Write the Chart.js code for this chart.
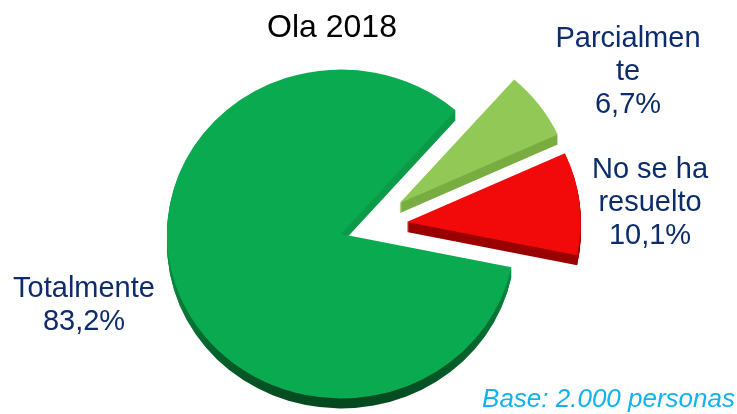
<!DOCTYPE html>
<html>
<head>
<meta charset="utf-8">
<script src="https://cdn.jsdelivr.net/npm/chart.js@4"></script>
<style>
  html, body { margin: 0; padding: 0; background: #fff; }
  #chart { display: block; }
</style>
</head>
<body>
<canvas id="chart" width="737" height="414"></canvas>
<script>
const title = "Ola 2018";
const categories = [["Parcialmen", "te"], ["No se ha", "resuelto"], ["Totalmente"]];
const shares = [6.7, 10.1, 83.2];
const baseNote = "Base: 2.000 personas";

const topColors = ["#92c855", "#f20a0a", "#0aab50"];
const sideColors = ["#79ad42", "#9a0000", null]; // big slice gets a gradient wall
const explode = [67, 67, 0];
const explodeTurn = [7.6, -4.4, 0]; // degrees, nudges the pull-out direction
const labelPos = [{ x: 628, y: 47 }, { x: 650, y: 178 }, { x: 84, y: 297 }];
const TILT = 0.945;
const DEPTH = 10;
const LINE = 33;
const navy = "#0d2c6c";

function fmt(v) {
    return v.toFixed(1).replace(".", ",") + "%";
}

function slicePath(ctx, a) {
    ctx.beginPath();
    ctx.moveTo(a.x, a.y);
    ctx.arc(a.x, a.y, a.outerRadius, a.startAngle, a.endAngle);
    ctx.closePath();
}

// flatten the pie into an ellipse and push exploded slices outwards
function placeSlice(ctx, a, i) {
    const dir = (a.startAngle + a.endAngle) / 2 + explodeTurn[i] * Math.PI / 180;
    ctx.translate(0, a.y);
    ctx.scale(1, TILT);
    ctx.translate(0, -a.y);
    ctx.translate(Math.cos(dir) * explode[i], Math.sin(dir) * explode[i]);
}

const pie3d = {
    id: "pie3d",
    beforeDatasetsDraw(chart) {
        const ctx = chart.ctx;
        const arcs = chart.getDatasetMeta(0).data;

        // side walls, stacked from the bottom up
        for (let d = DEPTH; d >= 1; d--) {
            arcs.forEach((a, i) => {
                ctx.save();
                ctx.translate(0, d);
                placeSlice(ctx, a, i);
                if (sideColors[i]) {
                    ctx.fillStyle = sideColors[i];
                } else {
                    const g = ctx.createLinearGradient(0, a.y, 0, a.y + a.outerRadius);
                    g.addColorStop(0, "#0a9a48");
                    g.addColorStop(1, "#05481f");
                    ctx.fillStyle = g;
                }
                slicePath(ctx, a);
                ctx.fill();
                ctx.restore();
            });
        }

        // top faces
        arcs.forEach((a, i) => {
            ctx.save();
            placeSlice(ctx, a, i);
            a.draw(ctx);
            ctx.restore();
        });
        return false;
    },
    afterDraw(chart) {
        const ctx = chart.ctx;
        ctx.save();
        ctx.textAlign = "center";
        ctx.textBaseline = "alphabetic";

        ctx.fillStyle = "#000";
        ctx.font = "32px 'Liberation Sans', Arial, sans-serif";
        ctx.fillText(title, 332, 37);

        ctx.fillStyle = navy;
        ctx.font = "29px 'Liberation Sans', Arial, sans-serif";
        categories.forEach((lines, i) => {
            const all = lines.concat(fmt(shares[i]));
            all.forEach((t, j) => ctx.fillText(t, labelPos[i].x, labelPos[i].y + j * LINE));
        });

        ctx.textAlign = "right";
        ctx.fillStyle = "#12b2ee";
        ctx.font = "italic 26px 'Liberation Sans', Arial, sans-serif";
        ctx.fillText(baseNote, 735, 407);
        ctx.restore();
    }
};

new Chart(document.getElementById("chart"), {
    type: "pie",
    data: {
        labels: categories,
        datasets: [{
            data: shares,
            backgroundColor: topColors,
            borderWidth: 0
        }]
    },
    options: {
        responsive: false,
        animation: false,
        rotation: 41.2,
        radius: 174,
        layout: {
            padding: { left: 0, right: 55, top: 54, bottom: 0 }
        },
        plugins: {
            legend: { display: false },
            tooltip: { enabled: false }
        }
    },
    plugins: [pie3d]
});
</script>
</body>
</html>
